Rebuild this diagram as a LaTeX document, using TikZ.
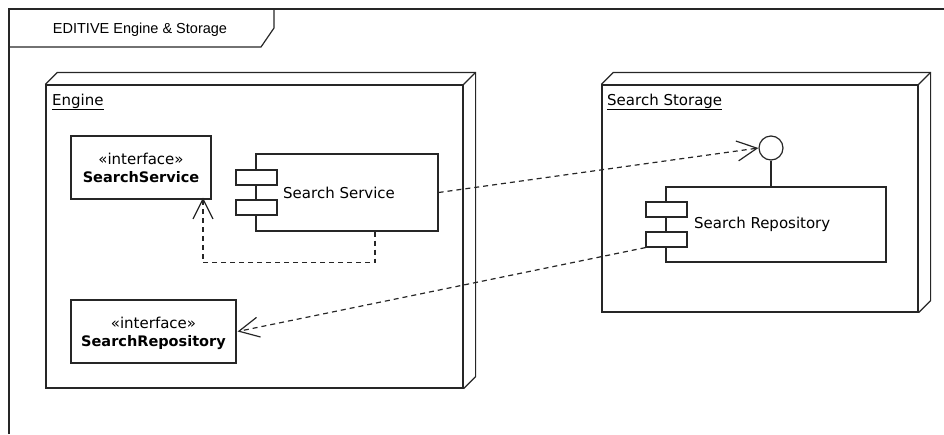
\documentclass[tikz,border=0pt]{standalone}
\usepackage{fontspec}
\setmainfont{DejaVu Sans}
\newfontfamily\titlefont{Liberation Sans}
\usetikzlibrary{arrows.meta}

\tikzset{
  ln/.style={line width=1.2pt, draw=black!85},
  box/.style={ln, rectangle, fill=white, inner sep=0pt, align=center},
  port/.style={ln, rectangle, fill=white, minimum width=41pt, minimum height=15pt, inner sep=0pt},
  lbl/.style={inner sep=0pt, font=\fontsize{15}{18}\selectfont},
  dep/.style={ln, dash pattern=on 5pt off 4pt, -{Straight Barb[length=20pt,width=20pt,line width=1.2pt]}},
}

\begin{document}
\begin{tikzpicture}[x=1pt,y=-1pt]
\useasboundingbox (0,0) rectangle (944,434);

% diagram frame with its name tab
\draw[ln] (9,434) -- (9,9) -- (944,9);
\draw[ln] (9,47) -- (261,47) -- (274,28) -- (274,9);
\node[inner sep=0pt, font=\titlefont\fontsize{14.5}{17}\selectfont, anchor=base] (title) at (140,33) {EDITIVE Engine \& Storage};

% deployment node: Engine
\node[ln, rectangle, inner sep=0pt, minimum width=417pt, minimum height=303pt] (engine) at (254.5,236.5) {};
\draw[ln] (engine.north west) -- ++(12,-12) -- ([shift={(12,-12)}]engine.north east) -- ([shift={(12,-12)}]engine.south east) -- (engine.south east);
\draw[ln] (engine.north east) -- ++(12,-12);
\node[lbl, anchor=base west] (enginelbl) at (52,105) {\underline{Engine}};

% deployment node: Search Storage
\node[ln, rectangle, inner sep=0pt, minimum width=316pt, minimum height=227pt] (storage) at (760,198.5) {};
\draw[ln] (storage.north west) -- ++(12,-12) -- ([shift={(12,-12)}]storage.north east) -- ([shift={(12,-12)}]storage.south east) -- (storage.south east);
\draw[ln] (storage.north east) -- ++(12,-12);
\node[lbl, anchor=base west] (storagelbl) at (607,105) {\underline{Search Storage}};

% interfaces
\node[box, minimum width=140pt, minimum height=63pt] (ssi) at (141,167.5) {};
\node[lbl, anchor=base] (ssi1) at (141,164) {«interface»};
\node[lbl, anchor=base, font=\fontsize{14.5}{17}\selectfont\bfseries] (ssi2) at (141,182) {SearchService};

\node[box, minimum width=165pt, minimum height=63pt] (sri) at (153.5,331.5) {};
\node[lbl, anchor=base] (sri1) at (153.5,328) {«interface»};
\node[lbl, anchor=base, font=\fontsize{14.5}{17}\selectfont\bfseries] (sri2) at (153.5,346) {SearchRepository};

% component: Search Service
\node[box, minimum width=182pt, minimum height=77pt] (svc) at (347,192.5) {};
\node[port] (svcp1) at (256.5,177.5) {};
\node[port] (svcp2) at (256.5,207.5) {};
\node[lbl, anchor=west] (svclbl) at (283,193) {Search Service};

% component: Search Repository with provided interface
\node[box, minimum width=220pt, minimum height=75pt] (repo) at (776,224.5) {};
\node[port] (rp1) at (666.5,209.5) {};
\node[port] (rp2) at (666.5,239.5) {};
\node[lbl, anchor=west] (repolbl) at (694,224) {Search Repository};
\node[ln, circle, minimum size=24pt, inner sep=0pt] (lolli) at (771,148) {};
\draw[ln] (lolli.south) -- (lolli.south |- repo.north);

% dependencies
\draw[dep] ([xshift=28pt]svc.south) -- ++(0,31) -| ([xshift=62pt,yshift=2pt]ssi.south);
\draw[dep] (svc.east) -- (lolli.west);
\draw[dep] (rp2.south west) -- ([xshift=1pt]sri.east);
\end{tikzpicture}
\end{document}
